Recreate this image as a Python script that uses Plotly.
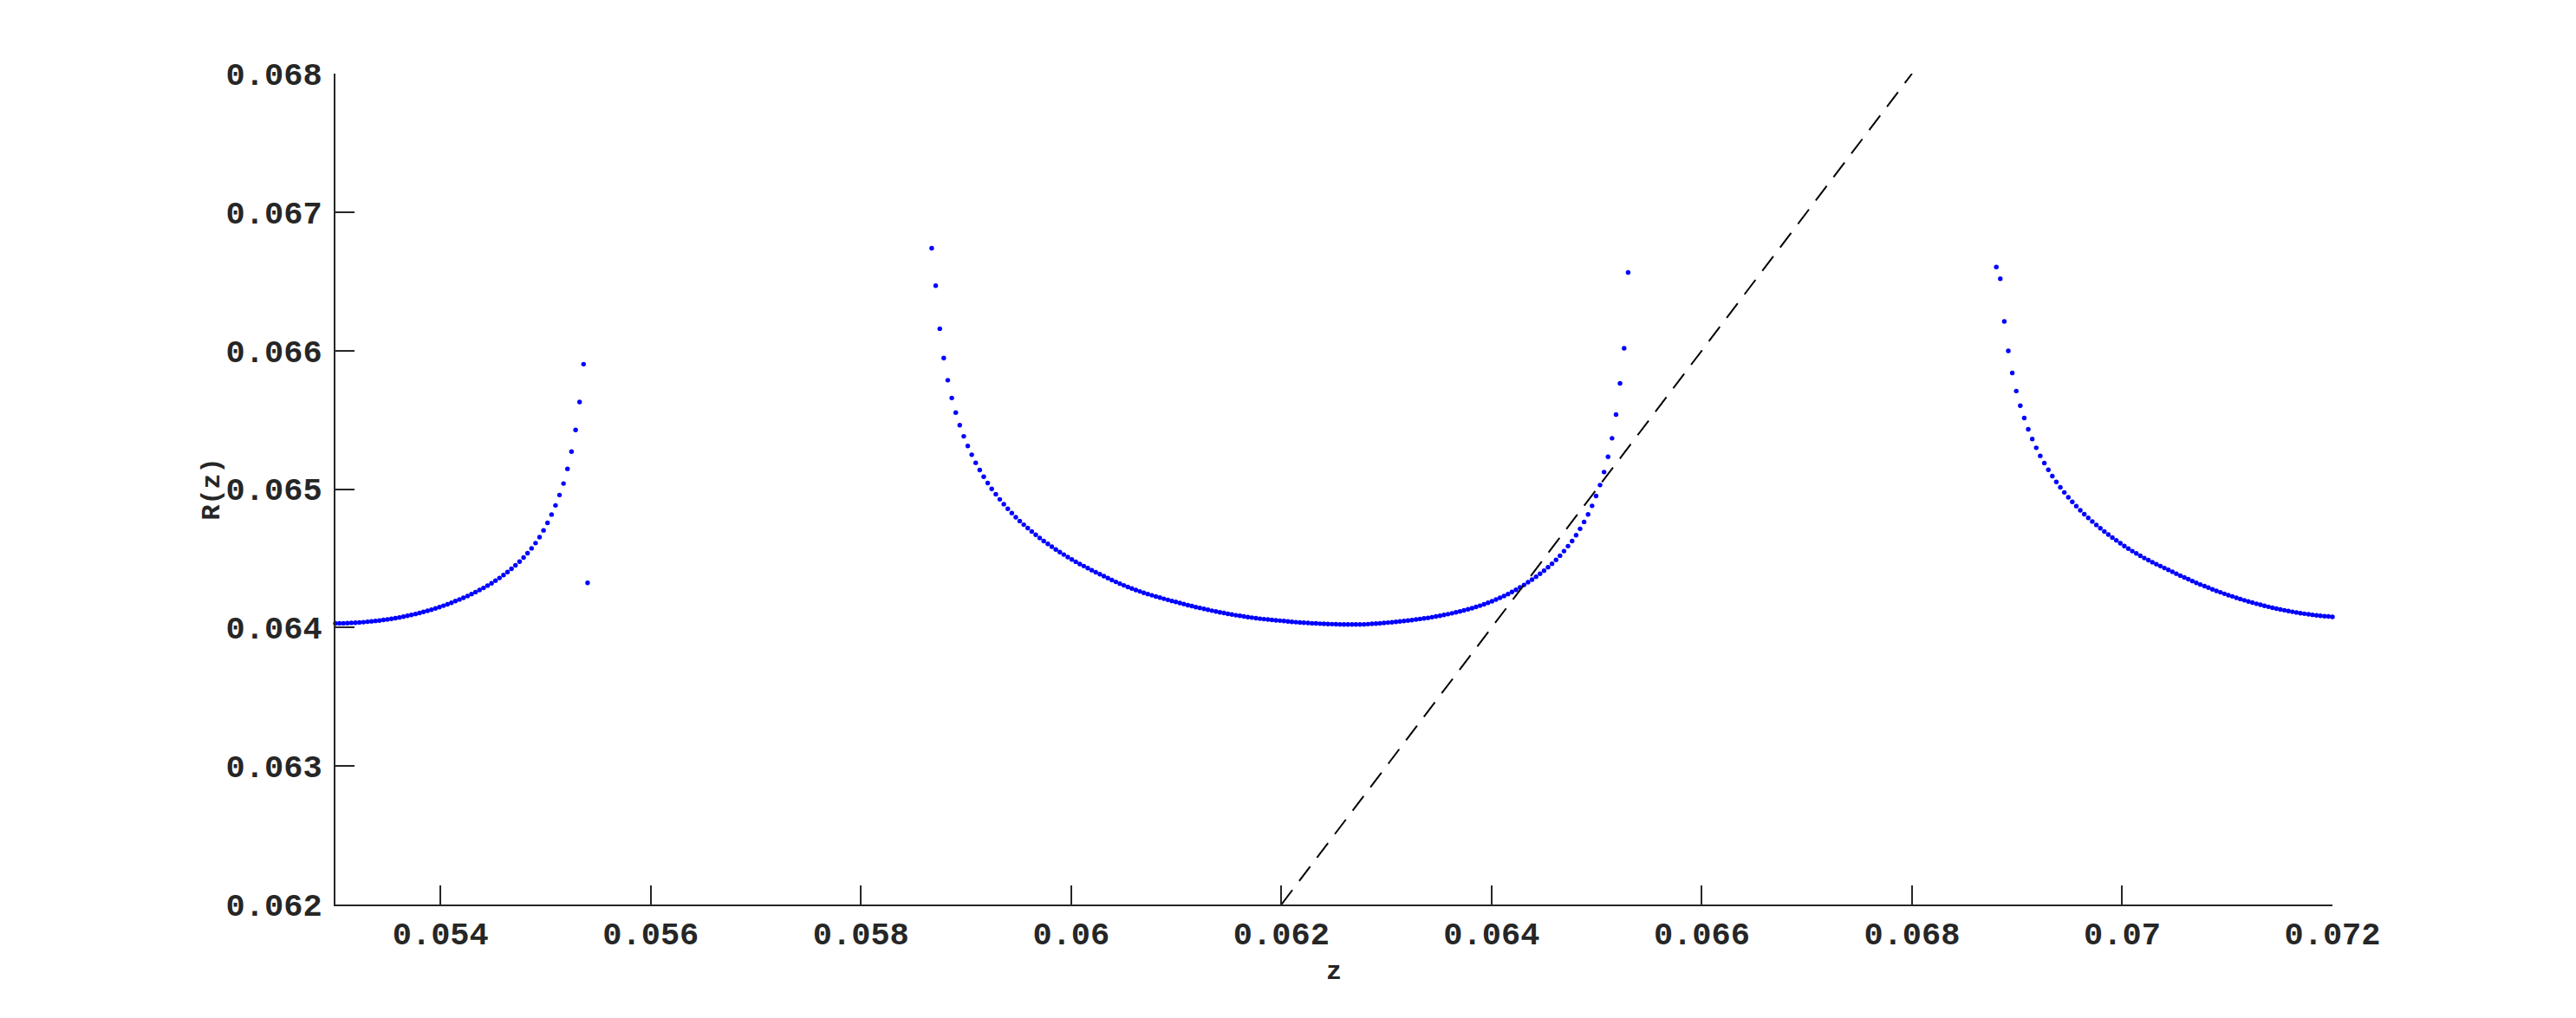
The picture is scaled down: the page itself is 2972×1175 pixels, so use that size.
import plotly.graph_objects as go

# ---------------- data ----------------
# branch 1 (left of first pole)
z1 = [0.053000, 0.053038, 0.053076, 0.053114, 0.053152, 0.053190, 0.053228, 0.053267, 0.053305, 0.053343,
      0.053381, 0.053419, 0.053457, 0.053495, 0.053533, 0.053571, 0.053609, 0.053647, 0.053685, 0.053723,
      0.053762, 0.053800, 0.053838, 0.053876, 0.053914, 0.053952, 0.053990, 0.054028, 0.054066, 0.054104,
      0.054142, 0.054180, 0.054218, 0.054257, 0.054295, 0.054333, 0.054371, 0.054409, 0.054447, 0.054485,
      0.054523, 0.054561, 0.054599, 0.054637, 0.054675, 0.054713, 0.054752, 0.054790, 0.054828, 0.054866,
      0.054904, 0.054942, 0.054980, 0.055018, 0.055056, 0.055094, 0.055132, 0.055170, 0.055208, 0.055246,
      0.055285, 0.055323, 0.055361]
r1 = [0.064030, 0.064031, 0.064031, 0.064032, 0.064034, 0.064035, 0.064037, 0.064039, 0.064042, 0.064045,
      0.064048, 0.064051, 0.064055, 0.064059, 0.064063, 0.064068, 0.064073, 0.064079, 0.064085, 0.064091,
      0.064098, 0.064105, 0.064113, 0.064121, 0.064129, 0.064138, 0.064148, 0.064158, 0.064168, 0.064179,
      0.064191, 0.064203, 0.064215, 0.064228, 0.064242, 0.064256, 0.064271, 0.064286, 0.064303, 0.064320,
      0.064339, 0.064358, 0.064379, 0.064401, 0.064424, 0.064449, 0.064476, 0.064506, 0.064537, 0.064572,
      0.064610, 0.064653, 0.064702, 0.064756, 0.064816, 0.064882, 0.064957, 0.065040, 0.065146, 0.065271,
      0.065427, 0.065629, 0.065902]

# isolated point just right of the first pole
z_iso = [0.055399]
r_iso = [0.064323]

# branch 2 (between the poles)
z2 = [0.058673, 0.058711, 0.058750, 0.058788, 0.058826, 0.058864, 0.058902, 0.058940, 0.058978, 0.059016,
      0.059054, 0.059092, 0.059130, 0.059168, 0.059206, 0.059244, 0.059283, 0.059321, 0.059359, 0.059397,
      0.059435, 0.059473, 0.059511, 0.059549, 0.059587, 0.059625, 0.059663, 0.059701, 0.059739, 0.059778,
      0.059816, 0.059854, 0.059892, 0.059930, 0.059968, 0.060006, 0.060044, 0.060082, 0.060120, 0.060158,
      0.060196, 0.060234, 0.060273, 0.060311, 0.060349, 0.060387, 0.060425, 0.060463, 0.060501, 0.060539,
      0.060577, 0.060615, 0.060653, 0.060691, 0.060729, 0.060768, 0.060806, 0.060844, 0.060882, 0.060920,
      0.060958, 0.060996, 0.061034, 0.061072, 0.061110, 0.061148, 0.061186, 0.061224, 0.061263, 0.061301,
      0.061339, 0.061377, 0.061415, 0.061453, 0.061491, 0.061529, 0.061567, 0.061605, 0.061643, 0.061681,
      0.061719, 0.061758, 0.061796, 0.061834, 0.061872, 0.061910, 0.061948, 0.061986, 0.062024, 0.062062,
      0.062100, 0.062138, 0.062176, 0.062214, 0.062253, 0.062291, 0.062329, 0.062367, 0.062405, 0.062443,
      0.062481, 0.062519, 0.062557, 0.062595, 0.062633, 0.062671, 0.062709, 0.062747, 0.062786, 0.062824,
      0.062862, 0.062900, 0.062938, 0.062976, 0.063014, 0.063052, 0.063090, 0.063128, 0.063166, 0.063204,
      0.063242, 0.063281, 0.063319, 0.063357, 0.063395, 0.063433, 0.063471, 0.063509, 0.063547, 0.063585,
      0.063623, 0.063661, 0.063699, 0.063737, 0.063776, 0.063814, 0.063852, 0.063890, 0.063928, 0.063966,
      0.064004, 0.064042, 0.064080, 0.064118, 0.064156, 0.064194, 0.064232, 0.064271, 0.064309, 0.064347,
      0.064385, 0.064423, 0.064461, 0.064499, 0.064537, 0.064575, 0.064613, 0.064651, 0.064689, 0.064727,
      0.064766, 0.064804, 0.064842, 0.064880, 0.064918, 0.064956, 0.064994, 0.065032, 0.065070, 0.065108,
      0.065146, 0.065184, 0.065222, 0.065261, 0.065299]
r2 = [0.066739, 0.066469, 0.066158, 0.065946, 0.065786, 0.065658, 0.065552, 0.065461, 0.065381, 0.065311,
      0.065248, 0.065190, 0.065138, 0.065089, 0.065044, 0.065002, 0.064963, 0.064926, 0.064891, 0.064858,
      0.064827, 0.064797, 0.064769, 0.064743, 0.064718, 0.064694, 0.064670, 0.064647, 0.064625, 0.064604,
      0.064584, 0.064564, 0.064545, 0.064527, 0.064509, 0.064492, 0.064475, 0.064459, 0.064444, 0.064429,
      0.064414, 0.064399, 0.064385, 0.064371, 0.064357, 0.064343, 0.064330, 0.064317, 0.064305, 0.064293,
      0.064282, 0.064271, 0.064261, 0.064251, 0.064242, 0.064233, 0.064224, 0.064216, 0.064208, 0.064200,
      0.064192, 0.064185, 0.064177, 0.064170, 0.064162, 0.064155, 0.064148, 0.064142, 0.064135, 0.064129,
      0.064122, 0.064116, 0.064110, 0.064105, 0.064099, 0.064094, 0.064089, 0.064085, 0.064080, 0.064076,
      0.064072, 0.064068, 0.064064, 0.064061, 0.064058, 0.064055, 0.064052, 0.064050, 0.064047, 0.064044,
      0.064041, 0.064039, 0.064037, 0.064035, 0.064033, 0.064031, 0.064030, 0.064028, 0.064027, 0.064026,
      0.064025, 0.064024, 0.064023, 0.064022, 0.064022, 0.064022, 0.064022, 0.064022, 0.064023, 0.064025,
      0.064027, 0.064029, 0.064031, 0.064033, 0.064036, 0.064038, 0.064041, 0.064044, 0.064047, 0.064051,
      0.064054, 0.064058, 0.064062, 0.064066, 0.064070, 0.064075, 0.064080, 0.064085, 0.064091, 0.064097,
      0.064103, 0.064110, 0.064117, 0.064124, 0.064132, 0.064140, 0.064149, 0.064158, 0.064168, 0.064179,
      0.064190, 0.064202, 0.064215, 0.064228, 0.064242, 0.064257, 0.064273, 0.064290, 0.064308, 0.064327,
      0.064346, 0.064367, 0.064388, 0.064411, 0.064436, 0.064461, 0.064489, 0.064519, 0.064552, 0.064588,
      0.064625, 0.064667, 0.064713, 0.064763, 0.064817, 0.064879, 0.064950, 0.065029, 0.065123, 0.065233,
      0.065367, 0.065538, 0.065763, 0.066017, 0.066564]

# branch 3 (right of the second pole)
z3 = [0.068802, 0.068840, 0.068878, 0.068916, 0.068954, 0.068992, 0.069030, 0.069068, 0.069106, 0.069144,
      0.069182, 0.069220, 0.069259, 0.069297, 0.069335, 0.069373, 0.069411, 0.069449, 0.069487, 0.069525,
      0.069563, 0.069601, 0.069639, 0.069677, 0.069715, 0.069754, 0.069792, 0.069830, 0.069868, 0.069906,
      0.069944, 0.069982, 0.070020, 0.070058, 0.070096, 0.070134, 0.070172, 0.070210, 0.070249, 0.070287,
      0.070325, 0.070363, 0.070401, 0.070439, 0.070477, 0.070515, 0.070553, 0.070591, 0.070629, 0.070667,
      0.070705, 0.070743, 0.070782, 0.070820, 0.070858, 0.070896, 0.070934, 0.070972, 0.071010, 0.071048,
      0.071086, 0.071124, 0.071162, 0.071200, 0.071238, 0.071277, 0.071315, 0.071353, 0.071391, 0.071429,
      0.071467, 0.071505, 0.071543, 0.071581, 0.071619, 0.071657, 0.071695, 0.071733, 0.071772, 0.071810,
      0.071848, 0.071886, 0.071924, 0.071962, 0.072000]
r3 = [0.066604, 0.066519, 0.066211, 0.065998, 0.065838, 0.065708, 0.065602, 0.065513, 0.065432, 0.065361,
      0.065298, 0.065240, 0.065188, 0.065139, 0.065094, 0.065052, 0.065013, 0.064976, 0.064941, 0.064908,
      0.064877, 0.064847, 0.064819, 0.064792, 0.064766, 0.064741, 0.064717, 0.064694, 0.064672, 0.064650,
      0.064630, 0.064609, 0.064589, 0.064570, 0.064552, 0.064535, 0.064518, 0.064502, 0.064487, 0.064472,
      0.064458, 0.064444, 0.064430, 0.064417, 0.064403, 0.064389, 0.064375, 0.064362, 0.064349, 0.064336,
      0.064323, 0.064311, 0.064299, 0.064288, 0.064276, 0.064265, 0.064255, 0.064244, 0.064234, 0.064225,
      0.064215, 0.064206, 0.064197, 0.064188, 0.064180, 0.064172, 0.064165, 0.064157, 0.064150, 0.064143,
      0.064137, 0.064131, 0.064125, 0.064119, 0.064114, 0.064109, 0.064104, 0.064100, 0.064096, 0.064092,
      0.064088, 0.064085, 0.064082, 0.064080, 0.064077]

# dashed reference line R = z
diag_z = [0.062, 0.068]
diag_r = [0.062, 0.068]

x_tickvals = [0.054, 0.056, 0.058, 0.060, 0.062, 0.064, 0.066, 0.068, 0.070, 0.072]
x_ticktext = ["0.054", "0.056", "0.058", "0.06", "0.062", "0.064", "0.066", "0.068", "0.07", "0.072"]
y_tickvals = [0.062, 0.063, 0.064, 0.065, 0.066, 0.067, 0.068]
y_ticktext = ["0.062", "0.063", "0.064", "0.065", "0.066", "0.067", "0.068"]

# ---------------- figure ----------------
FONT = "Liberation Mono, Courier New, monospace"
AX = "#262626"
FS = 37
FS_TITLE = 30

fig = go.Figure()

all_z = z1 + z_iso + z2 + z3
all_r = r1 + r_iso + r2 + r3
fig.add_trace(go.Scatter(x=all_z, y=all_r, mode="markers",
                         marker=dict(color="#0000FF", size=5.4, line=dict(width=0)),
                         cliponaxis=False, showlegend=False))

fig.add_trace(go.Scatter(x=diag_z, y=diag_r, mode="lines",
                         line=dict(color="black", width=2, dash="21px,13px"),
                         cliponaxis=False, showlegend=False))

axis_common = dict(showline=True, linecolor=AX, linewidth=2, ticks="inside", ticklen=22,
                   tickwidth=2, tickcolor=AX, showgrid=False, zeroline=False,
                   tickfont=dict(family=FONT, size=FS, color=AX, weight="bold"))

fig.update_xaxes(range=[0.053, 0.072], tickvals=x_tickvals, ticktext=x_ticktext,
                 ticklabelstandoff=0, **axis_common)
fig.update_yaxes(range=[0.062, 0.068], tickvals=y_tickvals, ticktext=y_ticktext,
                 ticklabelstandoff=6, **axis_common)

fig.add_annotation(text="R(z)", xref="paper", yref="paper", x=0, y=0.5, xshift=-143,
                   textangle=-90, showarrow=False, xanchor="center", yanchor="middle",
                   font=dict(family=FONT, size=FS_TITLE, color=AX, weight="bold"))
fig.add_annotation(text="z", xref="paper", yref="paper", x=0.5, y=0, yshift=-78,
                   showarrow=False, xanchor="center", yanchor="middle",
                   font=dict(family=FONT, size=FS_TITLE, color=AX, weight="bold"))

fig.update_layout(width=2972, height=1175,
                  margin=dict(l=379, r=289, t=77, b=139, pad=0),
                  paper_bgcolor="white", plot_bgcolor="white")

fig.write_html("out.html")
